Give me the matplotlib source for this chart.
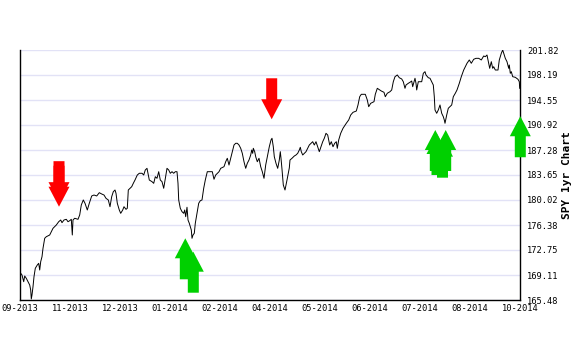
import matplotlib
matplotlib.use("Agg")
import matplotlib.pyplot as plt
import matplotlib.transforms as mtransforms
from matplotlib.patches import Polygon

# SPY daily closes: trading-day position and close price
day = [0.35, 1.0, 1.85, 2.35, 3.15, 4.0, 4.85, 5.35, 5.65, 6.0, 6.5, 7.0, 7.65, 8.65, 9.35,
       9.85, 10.35, 11.0, 11.5, 12.35, 13.15, 14.85, 15.65, 16.5, 17.35, 18.15, 19.35, 20.35,
       21.0, 22.0, 23.15, 24.0, 24.85, 25.65, 26.15, 26.5, 27.35, 29.0, 29.85, 30.65, 31.65,
       32.5, 33.65, 34.65, 35.85, 37.0, 38.35, 39.65, 40.85, 42.0, 43.0, 44.15, 45.0, 45.85,
       46.65, 47.5, 48.0, 48.65, 49.65, 50.35, 51.35, 52.0, 53.0, 53.65, 54.15, 55.0, 55.85,
       56.65, 57.5, 58.65, 59.65, 61.0, 61.85, 62.65, 63.5, 64.0, 64.65, 66.0, 66.85, 67.65,
       68.5, 69.35, 70.15, 71.0, 71.85, 72.65, 73.5, 74.35, 75.15, 76.0, 76.85, 77.65, 78.5,
       79.0, 79.35, 80.15, 81.0, 81.85, 82.35, 82.85, 83.5, 84.0, 84.65, 85.65, 86.0, 86.5,
       87.15, 87.65, 88.5, 89.35, 90.15, 91.0, 91.85, 92.65, 93.65, 96.15, 97.0, 97.85, 99.5,
       100.35, 102.0, 102.85, 103.65, 104.5, 105.35, 106.15, 107.0, 107.85, 108.65, 109.5,
       110.35, 111.15, 112.0, 112.85, 113.65, 114.5, 115.35, 115.85, 116.35, 116.65, 117.35,
       117.85, 118.65, 119.5, 120.35, 121.15, 122.0, 122.85, 123.65, 124.65, 125.5, 126.0,
       126.65, 127.15, 128.0, 128.85, 129.65, 130.15, 130.5, 131.0, 131.65, 132.5, 133.5,
       134.65, 135.0, 136.0, 137.15, 138.0, 138.85, 139.65, 140.15, 140.65, 141.35, 142.15,
       143.0, 143.85, 144.65, 145.5, 146.35, 147.15, 148.0, 148.85, 149.65, 150.5, 151.35,
       152.15, 153.0, 153.85, 154.85, 155.65, 156.5, 157.35, 158.15, 158.65, 159.35, 160.35,
       161.5, 163.15, 164.35, 165.35, 166.5, 168.15, 169.0, 169.85, 170.65, 172.65, 173.65,
       174.35, 175.35, 177.0, 177.65, 178.65, 179.85, 180.65, 182.0, 182.65, 183.65, 185.0,
       185.85, 186.65, 187.5, 188.65, 189.65, 190.85, 191.65, 192.5, 193.0, 194.15, 195.0,
       195.85, 196.35, 197.0, 197.5, 198.0, 198.35, 199.15, 200.85, 201.65, 202.5, 203.0,
       204.15, 205.0, 205.85, 206.65, 207.15, 207.5, 208.35, 209.15, 210.0, 210.85, 211.65,
       212.15, 212.5, 213.35, 214.15, 215.0, 215.85, 216.65, 217.65, 218.5, 219.65, 220.65,
       221.85, 222.65, 223.5, 224.65, 225.65, 226.85, 228.0, 229.35, 230.65, 231.85, 232.65,
       233.5, 234.35, 234.85, 235.65, 236.35, 236.85, 237.65, 239.0, 239.65, 240.65, 241.35,
       241.85, 242.65, 243.5, 244.35, 244.65, 245.15, 245.65, 246.35, 247.65, 249.0, 249.65,
       249.85]

close = [169.36, 169.11, 168.14, 168.97, 168.63, 168.14, 167.66, 166.93, 165.63, 166.21,
         167.41, 168.87, 170.09, 170.57, 170.81, 169.84, 171.05, 171.77, 172.99, 174.45,
         174.68, 174.93, 175.41, 175.90, 176.14, 176.38, 176.86, 177.11, 176.72, 177.11,
         177.21, 176.86, 177.01, 177.21, 174.93, 177.11, 177.36, 177.21, 177.84, 179.29,
         180.02, 179.54, 178.56, 179.54, 180.60, 180.74, 180.60, 181.08, 180.89, 180.74,
         180.26, 180.02, 179.04, 180.50, 181.22, 181.47, 180.99, 179.54, 178.56, 178.08,
         178.56, 179.04, 178.66, 178.81, 181.47, 181.72, 181.95, 182.44, 182.92, 183.65,
         183.90, 183.90, 183.65, 184.38, 184.62, 183.90, 182.92, 182.68, 182.44, 183.40,
         183.17, 184.13, 182.92, 182.68, 181.72, 183.17, 184.62, 184.38, 183.90, 184.13,
         183.90, 184.13, 184.13, 182.44, 180.02, 178.81, 178.32, 178.08, 178.56, 177.59,
         178.96, 177.11, 176.63, 175.66, 174.45, 174.93, 175.18, 176.63, 178.08, 179.54,
         179.91, 180.02, 181.72, 182.92, 184.13, 184.13, 183.03, 183.65, 184.13, 184.62,
         184.86, 185.58, 186.08, 185.10, 186.08, 187.04, 188.01, 188.26, 188.26, 188.01,
         187.53, 186.80, 185.58, 184.62, 185.35, 185.83, 186.56, 187.28, 186.80, 187.53,
         187.04, 186.31, 185.58, 186.08, 184.86, 184.13, 183.17, 185.10, 186.31, 187.76,
         188.74, 188.99, 187.76, 186.31, 185.35, 184.62, 185.83, 187.04, 186.08, 184.48,
         182.20, 181.47, 182.92, 184.67, 185.83, 186.08, 186.41, 186.56, 186.80, 187.28,
         187.68, 187.04, 186.56, 186.80, 187.04, 187.53, 188.01, 188.26, 188.49, 188.01,
         188.49, 187.76, 187.04, 187.76, 188.49, 188.99, 189.71, 189.46, 188.01, 188.49,
         187.76, 188.26, 188.49, 187.53, 188.74, 189.71, 190.44, 191.17, 191.65, 192.37,
         192.76, 192.95, 193.83, 195.03, 195.38, 195.38, 194.55, 193.58, 194.07, 194.31,
         195.38, 196.25, 196.01, 195.86, 195.67, 195.03, 195.53, 195.76, 196.01, 197.21,
         197.94, 198.19, 197.79, 197.61, 197.21, 196.25, 196.73, 196.98, 197.13, 197.31,
         196.49, 197.21, 197.71, 196.98, 196.01, 197.21, 197.21, 198.43, 198.67, 198.19,
         197.79, 197.71, 197.21, 196.73, 195.03, 193.10, 192.62, 193.10, 193.83, 192.62,
         192.13, 191.65, 191.17, 192.37, 193.35, 193.58, 193.83, 195.03, 195.53, 196.01,
         196.98, 197.94, 198.91, 199.39, 199.89, 200.37, 199.89, 200.47, 200.61, 200.61,
         200.37, 200.95, 200.85, 201.09, 199.89, 199.16, 200.12, 199.16, 199.39, 198.91,
         198.91, 200.37, 201.34, 201.82, 201.34, 200.61, 200.12, 199.16, 199.64, 198.43,
         198.67, 197.94, 197.85, 197.56, 197.21, 196.25]

# Axis labels
x_tick_labels = ["09-2013", "11-2013", "12-2013", "01-2014", "02-2014", "04-2014",
                 "05-2014", "06-2014", "07-2014", "08-2014", "10-2014"]
x_tick_days = [0, 25, 50, 75, 100, 125, 150, 175, 200, 225, 250]
y_ticks = [165.48, 169.11, 172.75, 176.38, 180.02, 183.65, 187.28, 190.92, 194.55,
           198.19, 201.82]

# Trade signals: arrow tip position (day, price)
sell_day = [19.5, 19.5, 125.85]
sell_price = [179.70, 179.04, 191.75]
buy_day = [82.65, 86.65, 207.65, 212.85, 208.5, 211.25, 250.15]
buy_price = [174.45, 172.50, 190.19, 190.19, 189.61, 189.22, 192.19]

DPI = 100
fig = plt.figure(figsize=(5.8, 3.5), dpi=DPI)
ax = fig.add_axes([20 / 580, 50 / 350, 500 / 580, 250 / 350])

ax.set_xlim(0, 250)
ax.set_ylim(y_ticks[0], y_ticks[-1])

for yv in y_ticks:
    ax.axhline(yv, color="#e2e2f6", lw=1.0, zorder=0)

ax.plot(day, close, color="black", lw=0.7, zorder=3)

ax.spines["top"].set_visible(False)
for s in ["left", "right", "bottom"]:
    ax.spines[s].set_color("black")
    ax.spines[s].set_linewidth(1.0)

mono = "DejaVu Sans Mono"
ax.yaxis.tick_right()
ax.set_yticks(y_ticks)
ax.set_yticklabels([f"{v:.2f}" for v in y_ticks], fontsize=6.3, family=mono)
ax.set_xticks(x_tick_days)
ax.set_xticklabels(x_tick_labels, fontsize=6.3, family=mono)
ax.tick_params(axis="both", length=0, pad=3, colors="black")
ax.tick_params(axis="y", pad=5)

fig.text(567 / 580, 1 - 175 / 350, "SPY 1yr Chart", rotation=90, ha="center", va="center",
         fontsize=8, family=mono, fontweight="bold")

# Arrow shapes in pixels, tip at origin
head_w, head_h, shaft_w, total_h = 10.5, 20, 5.5, 41
down_arrow = [(0, 0), (-head_w, head_h), (-shaft_w, head_h), (-shaft_w, total_h),
              (shaft_w, total_h), (shaft_w, head_h), (head_w, head_h)]
up_arrow = [(x, -y) for x, y in down_arrow]


def draw_arrow(xd, yd, shape, color):
    tr = mtransforms.ScaledTranslation(xd, yd, ax.transData)
    poly = Polygon(shape, closed=True, transform=tr, facecolor=color, edgecolor="none",
                   clip_on=False, zorder=4)
    ax.add_patch(poly)


for xd, yd in zip(sell_day, sell_price):
    draw_arrow(xd, yd, down_arrow, "#ff0000")
for xd, yd in zip(buy_day, buy_price):
    draw_arrow(xd, yd, up_arrow, "#00d000")

fig.savefig("out.png", dpi=DPI)
